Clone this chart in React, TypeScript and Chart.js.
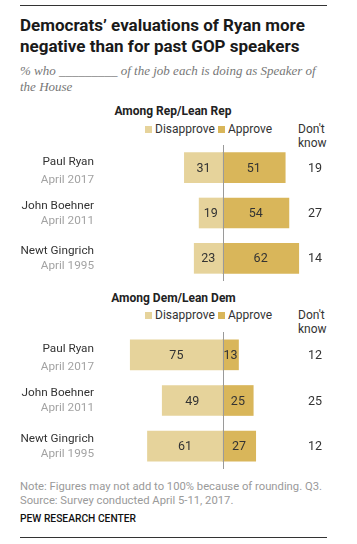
import React, { useEffect, useRef } from "react";
import { Chart, registerables } from "chart.js";

Chart.register(...registerables);

const names = ["Paul Ryan", "John Boehner", "Newt Gingrich"];
const dates = ["April 2017", "April 2011", "April 1995"];

const repDisapprove = [31, 19, 23];
const repApprove = [51, 54, 62];
const repDontKnow = [19, 27, 14];

const demDisapprove = [75, 49, 61];
const demApprove = [13, 25, 27];
const demDontKnow = [12, 25, 12];

const DISAPPROVE = "#E6D39B";
const APPROVE = "#D9B65A";
const FONT = "Roboto, 'Liberation Sans', sans-serif";
const DATE_OFFSETS = [12, 8, 8];
const NAME_OFFSETS = [-6, -7, -7];

const W = 357;

function Panel({ top, height, disapprove, approve, dontKnow }: any) {
  const ref = useRef<HTMLCanvasElement | null>(null);
  useEffect(() => {
    const canvas = ref.current!;
    const zeroX = 222.5;
    const left = 100;
    const right = 300;
    const k = 1.23;
    const minV = -(zeroX - left) / k;
    const maxV = (right - zeroX) / k;

    const labelPlugin = {
      id: "labels",
      afterDatasetsDraw(chart: any) {
        const ctx = chart.ctx;
        const xs = chart.scales.x;
        const ys = chart.scales.y;
        const ca = chart.chartArea;
        ctx.save();
        const x0 = Math.round(xs.getPixelForValue(0)) + 0.5;
        ctx.strokeStyle = "#9a9a9a";
        ctx.lineWidth = 1;
        ctx.beginPath();
        ctx.moveTo(x0, ca.top);
        ctx.lineTo(x0, ca.bottom);
        ctx.stroke();

        ctx.textBaseline = "middle";
        names.forEach((n, i) => {
          const y = ys.getPixelForValue(i);
          ctx.font = `12.5px ${FONT}`;
          ctx.fillStyle = "#333";
          ctx.textAlign = "center";
          const dx = (xs.getPixelForValue(-disapprove[i]) + xs.getPixelForValue(0)) / 2;
          ctx.fillText(String(disapprove[i]), dx, y + 1);
          const ax = (xs.getPixelForValue(approve[i]) + xs.getPixelForValue(0)) / 2;
          ctx.fillText(String(approve[i]), ax, y + 1);
          ctx.fillText(String(dontKnow[i]), 315, y + 1);
          ctx.textAlign = "right";
          ctx.font = `11.75px ${FONT}`;
          ctx.fillStyle = "#333";
          ctx.fillText(n, 94, y + NAME_OFFSETS[i]);
          ctx.fillStyle = "#a3a3a3";
          ctx.fillText(dates[i], 94, y + DATE_OFFSETS[i]);
        });
        ctx.restore();
      },
    };

    const chart = new Chart(canvas, {
      type: "bar",
      data: {
        labels: names,
        datasets: [
          {
            label: "Disapprove",
            data: disapprove.map((v: number) => -v),
            backgroundColor: DISAPPROVE,
            barThickness: 30,
          },
          {
            label: "Approve",
            data: approve,
            backgroundColor: APPROVE,
            barThickness: 30,
          },
        ],
      },
      options: {
        indexAxis: "y",
        responsive: false,
        animation: false,
        layout: { padding: { left, right: W - right, top: 0, bottom: 0 } },
        plugins: { legend: { display: false }, tooltip: { enabled: false } },
        scales: {
          x: { display: false, stacked: true, min: minV, max: maxV },
          y: { display: false, stacked: true },
        },
      },
      plugins: [labelPlugin],
    });
    return () => chart.destroy();
  }, []);
  return (
    <canvas
      ref={ref}
      width={W}
      height={height}
      style={{ position: "absolute", left: 0, top, width: W, height }}
    />
  );
}

function T({ x, y, align = "left", style, children }: any) {
  const pos: any = { position: "absolute", top: y, whiteSpace: "nowrap", lineHeight: 1 };
  let tx = "translateY(-50%)";
  if (align === "left") pos.left = x;
  else if (align === "right") pos.right = W - x;
  else {
    pos.left = x;
    tx = "translate(-50%, -50%)";
  }
  return <div style={{ ...pos, transform: tx, ...style }}>{children}</div>;
}

function Legend({ y }: any) {
  const sq = (c: string) => ({
    display: "inline-block",
    width: 7,
    height: 7,
    background: c,
    marginRight: 3,
  });
  const st = { fontFamily: FONT, fontSize: 12, color: "#333" };
  return (
    <>
      <T x={145} y={y} style={st}>
        <span style={sq(DISAPPROVE)} />
        Disapprove
      </T>
      <T x={218} y={y} style={st}>
        <span style={sq(APPROVE)} />
        Approve
      </T>
      <T x={298} y={y} style={st}>Don't</T>
      <T x={298} y={y + 14} style={st}>know</T>
    </>
  );
}

function Rule({ y }: any) {
  return (
    <div
      style={{
        position: "absolute",
        left: 20,
        top: y,
        width: 307,
        height: 0,
        borderTop: "1.5px solid #333",
        display: "block",
      }}
    />
  );
}

export default function App() {
  const head = { fontFamily: FONT, fontSize: 12, fontWeight: 700, color: "#222" };
  return (
    <div style={{ position: "absolute", left: 0, top: 0, width: W, height: 544, background: "#fff", overflow: "hidden" }}>
      <Rule y={5} />
      <div
        style={{
          position: "absolute",
          left: 20,
          top: 15,
          fontFamily: FONT,
          fontWeight: 700,
          fontSize: 17,
          lineHeight: "21px",
          color: "#1a1a1a",
          whiteSpace: "nowrap",
        }}
      >
        Democrats’ evaluations of Ryan more
        <br />
        negative than for past GOP speakers
      </div>
      <div
        style={{
          position: "absolute",
          left: 20,
          top: 63,
          fontFamily: "'Liberation Serif', 'Times New Roman', serif",
          fontStyle: "italic",
          fontSize: 13,
          lineHeight: "15.5px",
          color: "#777",
          whiteSpace: "nowrap",
        }}
      >
        % who _________ of the job each is doing as Speaker of
        <br />
        the House
      </div>

      <T x={173} y={111} align="center" style={head}>Among Rep/Lean Rep</T>
      <Legend y={129} />
      <Panel top={145} height={136} disapprove={repDisapprove} approve={repApprove} dontKnow={repDontKnow} />

      <T x={173.5} y={298} align="center" style={head}>Among Dem/Lean Dem</T>
      <Legend y={315} />
      <Panel top={332} height={137} disapprove={demDisapprove} approve={demApprove} dontKnow={demDontKnow} />

      <T x={20} y={487} style={{ fontFamily: FONT, fontSize: 11.25, color: "#9a9a9a" }}>
        Note: Figures may not add to 100% because of rounding. Q3.
      </T>
      <T x={20} y={501} style={{ fontFamily: FONT, fontSize: 11.25, color: "#9a9a9a" }}>
        Source: Survey conducted April 5-11, 2017.
      </T>
      <T x={20} y={519} style={{ fontFamily: FONT, fontSize: 10.25, fontWeight: 500, color: "#111" }}>
        PEW RESEARCH CENTER
      </T>
      <Rule y={537} />
    </div>
  );
}
